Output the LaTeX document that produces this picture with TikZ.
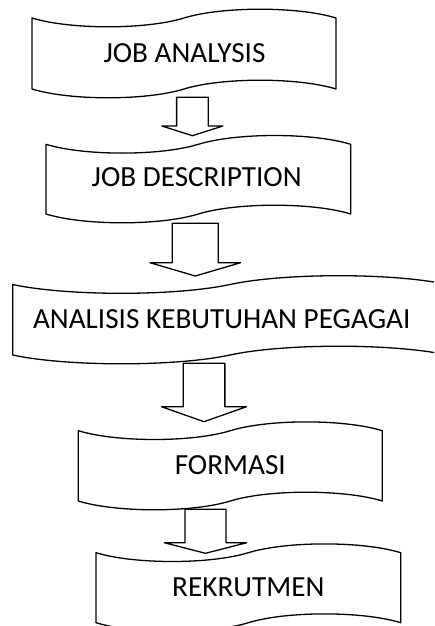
\documentclass[tikz,border=0pt]{standalone}
\usepackage{fontspec}
\setmainfont{Carlito}
\usetikzlibrary{calc}

% wave depth of the punched-tape boxes and its control-point height
\newcommand\wavedepth{8.8}

% punched-tape box: left x, top corner y, right x, bottom corner y (y measured downwards)
\newcommand\tapebox[4]{%
  \pgfmathsetmacro\tq{(#3-#1)/4}%
  \pgfmathsetmacro\tm{(#1+#3)/2}%
  \pgfmathsetmacro\tk{4*\wavedepth/3}%
  \pgfmathsetmacro\ta{#1+0.5*\tq}%
  \pgfmathsetmacro\tb{#1+1.5*\tq}%
  \pgfmathsetmacro\tc{\tm+0.5*\tq}%
  \pgfmathsetmacro\td{\tm+1.5*\tq}%
  \draw[tapeline]
    (#1,-#2) .. controls (\ta,{-#2-\tk}) and (\tb,{-#2-\tk}) .. (\tm,-#2)
             .. controls (\tc,{-#2+\tk}) and (\td,{-#2+\tk}) .. (#3,-#2)
    -- (#3,-#4) .. controls (\td,{-#4+\tk}) and (\tc,{-#4+\tk}) .. (\tm,-#4)
             .. controls (\tb,{-#4-\tk}) and (\ta,{-#4-\tk}) .. (#1,-#4)
    -- cycle;}

% hollow down arrow: centre x, top y, tip y, shaft width, head width, head length
\newcommand\blockdown[6]{%
  \draw[tapeline]
    ({#1-#4/2},-#2) -- ({#1+#4/2},-#2) -- ({#1+#4/2},{-(#3-#6)})
    -- ({#1+#5/2},{-(#3-#6)}) -- (#1,-#3) -- ({#1-#5/2},{-(#3-#6)})
    -- ({#1-#4/2},{-(#3-#6)}) -- cycle;}

\begin{document}
\begin{tikzpicture}[x=1pt,y=1pt,
  tapeline/.style={draw=black,line width=1.3pt,fill=white,line join=round},
  steptext/.style={inner sep=0pt,font=\fontsize{29.2}{35}\selectfont}]
  \useasboundingbox (0,0) rectangle (434,-626);
  \fill[white] (0,0) rectangle (434,-626);
  \clip (0,0) rectangle (434,-626);

  % boxes
  \tapebox{32}{18}{336}{89}
  \tapebox{46}{144.3}{350.7}{214}
  \tapebox{12.7}{284.5}{447.3}{355}
  \tapebox{78.3}{430.7}{382.3}{501}
  \tapebox{96}{552.7}{400.7}{622.7}

  % labels
  \node[steptext] (ja) at (184.5,-53) {JOB ANALYSIS};
  \node[steptext] (jd) at (196.7,-177.5) {JOB DESCRIPTION};
  \node[steptext] (akp) at (221.7,-319) {ANALISIS KEBUTUHAN PEGAGAI};
  \node[steptext] (fo) at (230.3,-465.3) {FORMASI};
  \node[steptext] (re) at (248.3,-587) {REKRUTMEN};

  % arrows between the steps
  \blockdown{192.4}{97.3}{135.7}{31.6}{61}{9.7}
  \blockdown{195.3}{223.3}{276}{46}{90.7}{13.3}
  \blockdown{204}{363.3}{421.7}{41.7}{85}{15}
  \blockdown{205.5}{509.3}{553.3}{41}{82.4}{10.6}
\end{tikzpicture}
\end{document}
